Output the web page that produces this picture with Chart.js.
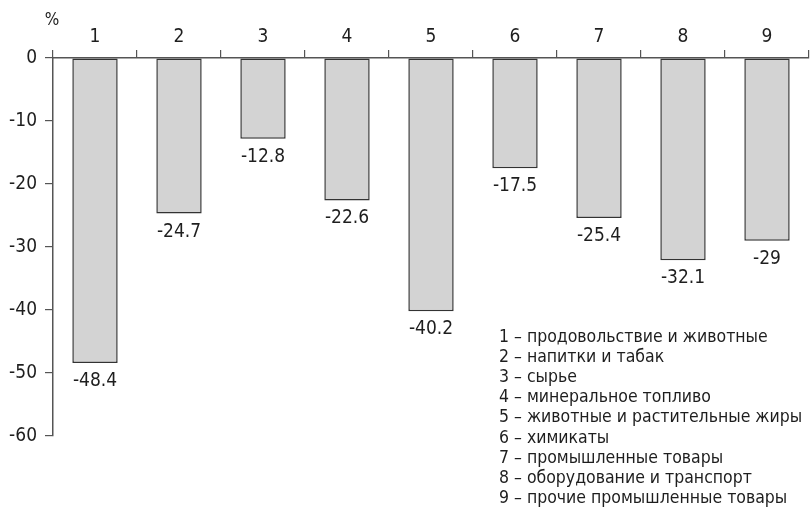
<!DOCTYPE html>
<html>
<head>
<meta charset="utf-8">
<script src="https://cdn.jsdelivr.net/npm/chart.js@4"></script>
<style>
  html, body { margin: 0; padding: 0; background: #fff; }
  #wrap { width: 811px; height: 514px; }
</style>
</head>
<body>
<div id="wrap"><canvas id="c" width="811" height="514"></canvas></div>
<script>
// Commodity groups and change in percent
const categories = ['1', '2', '3', '4', '5', '6', '7', '8', '9'];
const values = [-48.4, -24.7, -12.8, -22.6, -40.2, -17.5, -25.4, -32.1, -29];
const yTickValues = [0, -10, -20, -30, -40, -50, -60];
const legendLines = [
  '1 – продовольствие и животные',
  '2 – напитки и табак',
  '3 – сырье',
  '4 – минеральное топливо',
  '5 – животные и растительные жиры',
  '6 – химикаты',
  '7 – промышленные товары',
  '8 – оборудование и транспорт',
  '9 – прочие промышленные товары'
];
const unitLabel = '%';

const FONT = '"Liberation Sans Narrow", "DejaVu Sans Condensed", "Liberation Sans", sans-serif';
const TEXT = '#1e1e1e';
const AXIS = '#555';

const annotations = {
  id: 'annotations',
  afterDatasetsDraw(chart) {
    const ctx = chart.ctx;
    const meta = chart.getDatasetMeta(0);
    ctx.save();
    ctx.fillStyle = TEXT;
    // value labels under each bar end
    ctx.font = '19px ' + FONT;
    ctx.textAlign = 'center';
    ctx.textBaseline = 'middle';
    meta.data.forEach((bar, i) => {
      ctx.fillText(String(values[i]), bar.x, bar.y + 18);
    });
    // unit label above the value axis
    ctx.font = '17px ' + FONT;
    ctx.fillText(unitLabel, 52, 21);
    // group key
    ctx.textAlign = 'left';
    ctx.font = '17.5px ' + FONT;
    legendLines.forEach((line, i) => {
      ctx.fillText(line, 499, 337 + i * 20.2);
    });
    ctx.restore();
  }
};

new Chart(document.getElementById('c'), {
  type: 'bar',
  data: {
    labels: categories,
    datasets: [{
      data: values,
      backgroundColor: '#d3d3d3',
      borderColor: '#333',
      borderWidth: 1.5,
      borderSkipped: false,
      categoryPercentage: 1,
      barPercentage: 0.54
    }]
  },
  options: {
    responsive: false,
    animation: false,
    layout: { padding: { left: 0, right: 2, top: 0, bottom: 78 } },
    plugins: { legend: { display: false }, tooltip: { enabled: false } },
    scales: {
      x: {
        position: 'top',
        afterFit(scale) { scale.height = 58; },
        grid: { drawOnChartArea: false, tickLength: 8, color: AXIS, lineWidth: 1.2, offset: true },
        border: { color: AXIS, width: 1.5 },
        ticks: { color: TEXT, font: { family: FONT, size: 19 }, padding: 2 }
      },
      y: {
        min: -60,
        max: 0,
        afterFit(scale) { scale.width = 53; },
        afterBuildTicks(scale) { scale.ticks = yTickValues.map(v => ({ value: v })); },
        grid: { drawOnChartArea: false, tickLength: 8, color: AXIS, lineWidth: 1.2 },
        border: { color: AXIS, width: 1.5 },
        ticks: { color: TEXT, font: { family: FONT, size: 19 }, padding: 8 }
      }
    }
  },
  plugins: [annotations]
});
</script>
</body>
</html>
